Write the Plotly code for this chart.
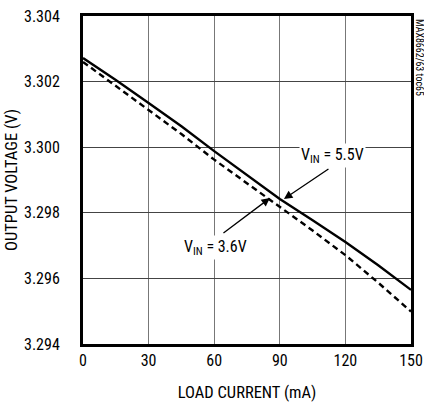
import plotly.graph_objects as go

load_ma = [0, 15, 30, 45, 60, 75, 90, 105, 120, 135, 150]
vout_55 = [3.30272, 3.30205, 3.30135, 3.30064, 3.29988, 3.29915, 3.29842, 3.29777, 3.29711, 3.29640, 3.29565]
vout_36 = [3.30260, 3.30187, 3.30113, 3.30040, 3.29962, 3.29890, 3.29818, 3.29746, 3.29671, 3.29587, 3.29499]

x_ticks = [0, 30, 60, 90, 120, 150]
y_ticks = [3.294, 3.296, 3.298, 3.300, 3.302, 3.304]

font_name = "Roboto Condensed, Liberation Sans, Arial"

fig = go.Figure()
fig.add_trace(go.Scatter(x=load_ma, y=vout_55, mode='lines', name='VIN = 5.5V',
                         line=dict(color='black', width=2.4)))
fig.add_trace(go.Scatter(x=load_ma, y=vout_36, mode='lines', name='VIN = 3.6V',
                         line=dict(color='black', width=2.4, dash='6px,4px')))

# arrows
fig.add_annotation(x=91.9, y=3.29842, ax=46, ay=-31,
                   text='', showarrow=True, arrowhead=2, arrowsize=1.3, arrowwidth=1.3,
                   arrowcolor='black')
fig.add_annotation(x=85.5, y=3.29845, ax=-48, ay=36,
                   text='', showarrow=True, arrowhead=2, arrowsize=1.3, arrowwidth=1.3,
                   arrowcolor='black')
# labels
fig.add_annotation(x=114.3, y=3.29976, text='V<sub>IN</sub> = 5.5V', showarrow=False,
                   bgcolor='white', font=dict(size=16))
fig.add_annotation(x=60.8, y=3.29693, text='V<sub>IN</sub> = 3.6V', showarrow=False,
                   bgcolor='white', font=dict(size=16))
fig.add_annotation(x=1.0, y=1.0, xref='paper', yref='paper', xanchor='left', yanchor='top',
                   xshift=1, yshift=-1, text='MAX8662/63 toc65', textangle=90, showarrow=False,
                   font=dict(size=10))

fig.update_layout(
    width=424, height=403,
    margin=dict(l=83, r=13, t=16, b=59),
    paper_bgcolor='white', plot_bgcolor='white',
    showlegend=False,
    font=dict(family=font_name, size=16, color='black'),
    xaxis=dict(range=[0, 150], tickvals=x_ticks, automargin=False, ticklabeloverflow='allow',
               title=dict(text='LOAD CURRENT (mA)', standoff=18, font=dict(size=16.5)),
               showgrid=True, gridcolor='#777', gridwidth=1, zeroline=False,
               showline=True, linecolor='black', linewidth=3, mirror=True, ticks=''),
    yaxis=dict(range=[3.294, 3.304], tickvals=y_ticks, tickformat='.3f', automargin=False,
               ticklabeloverflow='allow',
               title=dict(text='OUTPUT VOLTAGE (V)', standoff=3, font=dict(size=16.5)),
               showgrid=True, gridcolor='#444', gridwidth=1, zeroline=False,
               showline=True, linecolor='black', linewidth=3, mirror=True,
               ticks='outside', ticklen=17, tickcolor='rgba(0,0,0,0)'),
)

# drop the default 8px body margin so the figure fills the window
fig.write_html("out.html", config={'displayModeBar': False},
               post_script="document.body.style.margin='0';")
